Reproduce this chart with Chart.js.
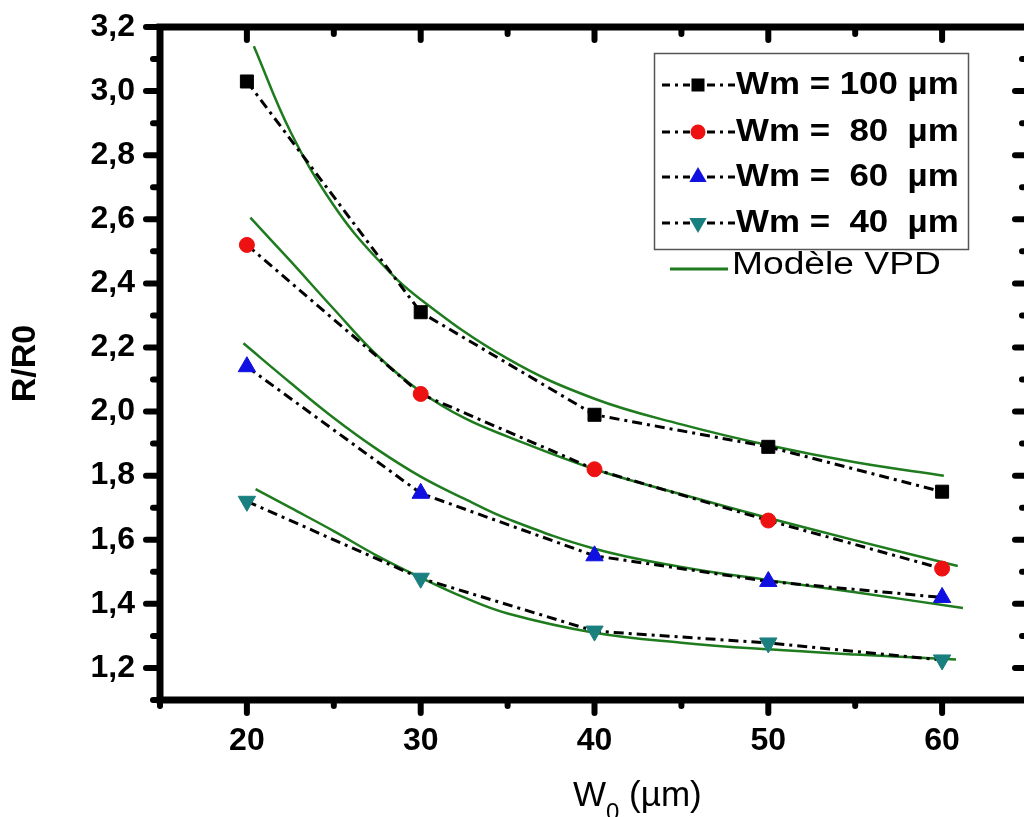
<!DOCTYPE html>
<html>
<head>
<meta charset="utf-8">
<script src="https://cdn.jsdelivr.net/npm/chart.js@4"></script>
<style>
  html, body { margin: 0; padding: 0; background: #fff; overflow: hidden; }
  #wrap { width: 1040px; height: 817px; }
</style>
</head>
<body>
<div id="wrap"><canvas id="chart" width="1040" height="817"></canvas></div>
<script>
// measured points
const widths = [20, 30, 40, 50, 60];
const wm100 = [3.03, 2.31, 1.99, 1.89, 1.75];
const wm80 = [2.52, 2.055, 1.82, 1.66, 1.51];
const wm60 = [2.14, 1.745, 1.55, 1.47, 1.42];
const wm40 = [1.72, 1.48, 1.315, 1.278, 1.225];
const seriesLabels = ["Wm = 100 µm", "Wm =  80  µm", "Wm =  60  µm", "Wm =  40  µm"];

// VPD model curves
const model100X = [20.4, 22.5, 25, 27.5, 30, 35, 40, 45, 50, 55, 60.1];
const model100Y = [3.14, 2.874, 2.643, 2.476, 2.35, 2.165, 2.04, 1.96, 1.895, 1.842, 1.80];
const model80X = [20.2, 22.5, 25, 27.5, 30, 32.5, 35, 40, 45, 50, 55, 60.9];
const model80Y = [2.605, 2.47, 2.32, 2.175, 2.062, 1.98, 1.922, 1.82, 1.742, 1.668, 1.598, 1.518];
const model60X = [19.8, 22.5, 25, 27.5, 30, 32.5, 35, 40, 45, 50, 55, 61.2];
const model60Y = [2.213, 2.09, 1.98, 1.882, 1.797, 1.728, 1.665, 1.572, 1.515, 1.474, 1.436, 1.387];
const model40X = [20.5, 22.5, 25, 27.5, 30, 32.5, 35, 40, 45, 50, 55, 60.8];
const model40Y = [1.758, 1.70, 1.627, 1.55, 1.482, 1.42, 1.37, 1.31, 1.279, 1.258, 1.242, 1.226];
const modelLabel = "Modèle VPD";

const xTicks = [20, 30, 40, 50, 60];
const xMinor = [15, 25, 35, 45, 55, 65];
const yTicks = [1.2, 1.4, 1.6, 1.8, 2.0, 2.2, 2.4, 2.6, 2.8, 3.0, 3.2];
const yMinor = [1.1, 1.3, 1.5, 1.7, 1.9, 2.1, 2.3, 2.5, 2.7, 2.9, 3.1];

const FONT = "'Liberation Sans', Arial, sans-serif";
const GREEN = "#1e7b1e";
const DASHDOT = [10, 5, 3, 5];

function pts(xs, ys) {
  return xs.map((x, i) => ({ x: x, y: ys[i] }));
}

function dataSet(label, ys, style, color, radius, rotation) {
  return {
    label: label,
    data: pts(widths, ys),
    borderColor: "#000",
    borderWidth: 3,
    borderDash: DASHDOT,
    pointStyle: style,
    pointRadius: radius,
    pointRotation: rotation || 0,
    pointBackgroundColor: color,
    pointBorderColor: color,
    pointBorderWidth: 1,
    showLine: true,
    tension: 0
  };
}

function modelSet(xs, ys) {
  return {
    label: modelLabel,
    data: pts(xs, ys),
    borderColor: GREEN,
    borderWidth: 2.5,
    pointRadius: 0,
    showLine: true,
    tension: 0.4,
    isModel: true
  };
}

const datasets = [
  dataSet(seriesLabels[0], wm100, "rect", "#000", 9.2),
  dataSet(seriesLabels[1], wm80, "circle", "#ee1111", 7.5),
  dataSet(seriesLabels[2], wm60, "triangle", "#1010e0", 10),
  dataSet(seriesLabels[3], wm40, "triangle", "#1a7f7f", 10, 180),
  modelSet(model100X, model100Y),
  modelSet(model80X, model80Y),
  modelSet(model60X, model60Y),
  modelSet(model40X, model40Y)
];

function drawMarker(ctx, ds, x, y) {
  ctx.save();
  ctx.fillStyle = ds.pointBackgroundColor;
  ctx.beginPath();
  const r = ds.pointRadius;
  if (ds.pointStyle === "rect") {
    const s = r * Math.SQRT1_2;
    ctx.rect(x - s, y - s, 2 * s, 2 * s);
  } else if (ds.pointStyle === "circle") {
    ctx.arc(x, y, r, 0, Math.PI * 2);
  } else {
    const dir = ds.pointRotation === 180 ? -1 : 1;
    ctx.moveTo(x, y - dir * r);
    ctx.lineTo(x + r * Math.sqrt(3) / 2, y + dir * r / 2);
    ctx.lineTo(x - r * Math.sqrt(3) / 2, y + dir * r / 2);
    ctx.closePath();
  }
  ctx.fill();
  ctx.restore();
}

// text drawn a little wider, like the stretched original figure
function wideText(ctx, text, x, y, sx) {
  ctx.save();
  ctx.translate(x, y);
  ctx.scale(sx, 1);
  ctx.fillText(text, 0, 0);
  ctx.restore();
}

const framePlugin = {
  id: "frame",
  afterDraw(chart) {
    const ctx = chart.ctx;
    const a = chart.chartArea;
    const xs = chart.scales.x;
    const ys = chart.scales.y;
    ctx.save();
    ctx.strokeStyle = "#000";
    ctx.lineWidth = 7;
    ctx.setLineDash([]);
    ctx.strokeRect(a.left, a.top, a.right - a.left, a.bottom - a.top);

    ctx.lineWidth = 6;
    ctx.lineCap = "round";
    function tick(x1, y1, x2, y2) {
      ctx.beginPath();
      ctx.moveTo(x1, y1);
      ctx.lineTo(x2, y2);
      ctx.stroke();
    }
    xTicks.forEach(v => {
      const px = xs.getPixelForValue(v);
      tick(px, a.bottom, px, a.bottom + 13);
      tick(px, a.top, px, a.top + 13);
    });
    xMinor.forEach(v => {
      const px = xs.getPixelForValue(v);
      tick(px, a.bottom, px, a.bottom + 6);
      tick(px, a.top, px, a.top + 7);
    });
    yTicks.forEach(v => {
      const py = ys.getPixelForValue(v);
      tick(a.left - 14, py, a.left, py);
      tick(a.right - 14, py, a.right, py);
    });
    yMinor.forEach(v => {
      const py = ys.getPixelForValue(v);
      tick(a.left - 7, py, a.left, py);
      tick(a.right - 7, py, a.right, py);
    });

    // x axis title with subscript
    ctx.fillStyle = "#000";
    ctx.textBaseline = "alphabetic";
    ctx.textAlign = "left";
    let tx = 573;
    ctx.font = "35px " + FONT;
    ctx.fillText("W", tx, 806);
    tx += ctx.measureText("W").width;
    ctx.font = "24px " + FONT;
    ctx.fillText("0", tx, 820);
    tx += ctx.measureText("0").width;
    ctx.font = "35px " + FONT;
    ctx.fillText(" (µm)", tx, 806);

    // legend
    ctx.lineCap = "butt";
    ctx.lineWidth = 1.5;
    ctx.strokeStyle = "#555";
    ctx.strokeRect(654.5, 53.5, 314, 196);
    const rows = [85, 132, 177, 223];
    chart.data.datasets.filter(d => !d.isModel).forEach((ds, i) => {
      const y = rows[i];
      ctx.strokeStyle = "#000";
      ctx.lineWidth = 3;
      ctx.setLineDash([8, 5, 3, 5]);
      tick(662, y, 690, y);
      tick(707, y, 735, y);
      ctx.setLineDash([]);
      drawMarker(ctx, ds, 698, y);
      ctx.font = "bold 32px " + FONT;
      ctx.textBaseline = "middle";
      ctx.fillStyle = "#000";
      wideText(ctx, ds.label, 736, y, 1.09);
    });
    ctx.strokeStyle = GREEN;
    ctx.lineWidth = 3;
    tick(670, 269, 728, 269);
    ctx.font = "31px " + FONT;
    ctx.fillStyle = "#000";
    ctx.textBaseline = "middle";
    wideText(ctx, modelLabel, 732, 265, 1.2);
    ctx.restore();
  }
};

new Chart(document.getElementById("chart"), {
  type: "scatter",
  data: { datasets: datasets },
  plugins: [framePlugin],
  options: {
    responsive: false,
    animation: false,
    layout: { padding: { top: 27, right: 10, left: 0, bottom: 0 } },
    plugins: { legend: { display: false }, tooltip: { enabled: false } },
    scales: {
      x: {
        type: "linear",
        min: 15,
        max: 65,
        grid: { display: false, drawTicks: false },
        border: { display: false },
        afterBuildTicks: s => { s.ticks = xTicks.map(v => ({ value: v })); },
        afterFit: s => { s.height = 117; s.paddingLeft = 0; s.paddingRight = 0; },
        ticks: {
          color: "#000",
          padding: 22,
          maxRotation: 0,
          font: { family: FONT, size: 32, weight: "bold" },
          callback: v => String(v)
        }
      },
      y: {
        type: "linear",
        min: 1.1,
        max: 3.2,
        grid: { display: false, drawTicks: false },
        border: { display: false },
        afterBuildTicks: s => { s.ticks = yTicks.map(v => ({ value: v })); },
        afterFit: s => { s.width = 160; s.paddingTop = 0; s.paddingBottom = 0; },
        title: {
          display: true,
          text: "R/R0",
          color: "#000",
          padding: { top: 5, bottom: 0 },
          font: { family: FONT, size: 34, weight: "bold" }
        },
        ticks: {
          color: "#000",
          padding: 25,
          font: { family: FONT, size: 32, weight: "bold" },
          callback: v => Number(v).toFixed(1).replace(".", ",")
        }
      }
    }
  }
});
</script>
</body>
</html>
